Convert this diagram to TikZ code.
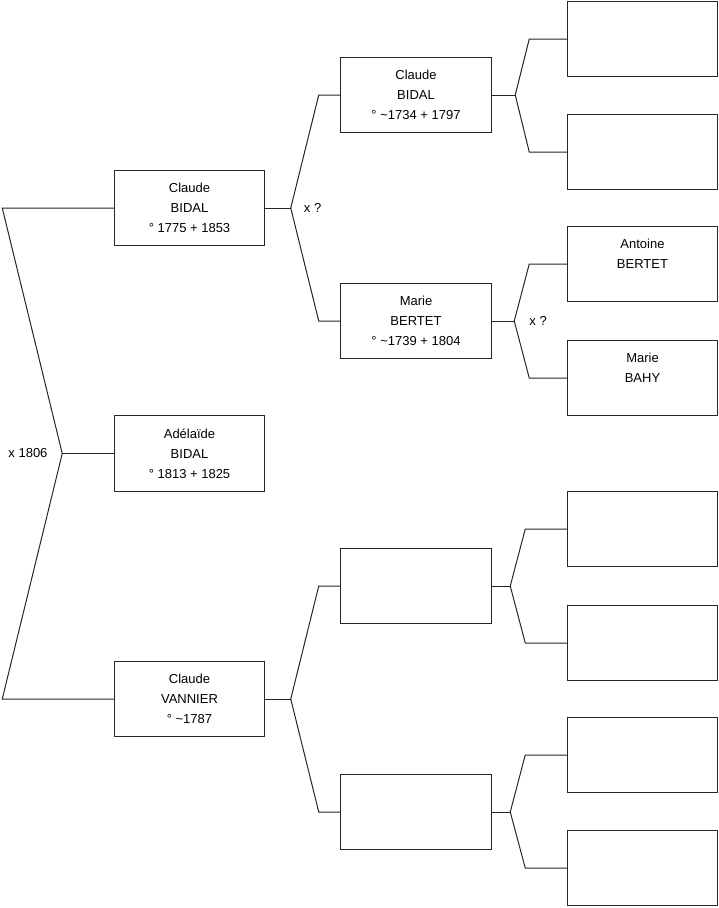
\documentclass[tikz,border=0pt]{standalone}
\usepackage{fontspec}
\setmainfont{Liberation Sans}
\usetikzlibrary{positioning}

\begin{document}
\begin{tikzpicture}[x=1pt, y=1pt, font=\fontsize{13}{20}\selectfont,
  personbox/.style={draw=black!85, line width=1pt, align=center, minimum width=150.5pt, minimum height=75.5pt, inner sep=0pt, outer sep=0pt, fill=white},
  marriage/.style={anchor=west, inner sep=0pt},
  link/.style={draw=black!85, line width=1pt}]
\useasboundingbox (0,0) rectangle (719,-908);
% child and parents
\node[personbox] (adelaide) at (189.5,-453.5) {Adélaïde\\BIDAL\\° 1813 + 1825};
\node[personbox, above=170pt of adelaide] (f) {Claude\\BIDAL\\° 1775 + 1853};
\node[personbox, below=170pt of adelaide] (m) {Claude\\VANNIER\\° \textasciitilde1787};
% grandparents
\node[personbox, right=76pt of f, yshift=113pt] (ff) {Claude\\BIDAL\\° \textasciitilde1734 + 1797};
\node[personbox, right=76pt of f, yshift=-113pt] (fm) {Marie\\BERTET\\° \textasciitilde1739 + 1804};
\node[personbox, right=76pt of m, yshift=113pt] (mf) {};
\node[personbox, right=76pt of m, yshift=-113pt] (mm) {};
% great-grandparents
\node[personbox, right=76pt of ff, yshift=56pt] (fff) {};
\node[personbox, right=76pt of ff, yshift=-57pt] (ffm) {};
\node[personbox, right=76pt of fm, yshift=57pt] (fmf) {Antoine\\BERTET\\\phantom{0}};
\node[personbox, right=76pt of fm, yshift=-57pt] (fmm) {Marie\\BAHY\\\phantom{0}};
\node[personbox, right=76pt of mf, yshift=57pt] (mff) {};
\node[personbox, right=76pt of mf, yshift=-57pt] (mfm) {};
\node[personbox, right=76pt of mm, yshift=57pt] (mmf) {};
\node[personbox, right=76pt of mm, yshift=-56pt] (mmm) {};

% parents -> child
\coordinate (split) at ([xshift=-52pt]adelaide.west);
\draw[link] (f.west) -- ([xshift=-112pt]f.west) -- (split) -- ([xshift=-112pt]m.west) -- (m.west);
\draw[link] (split) -- (adelaide.west);
\node[marriage] (wed) at ([xshift=-106pt]adelaide.west) {x 1806};

% forks to grandparents
\draw[link] (f.east) -- ([xshift=26pt]f.east);
\draw[link] (ff.west) -- ([xshift=-22pt]ff.west) -- ([xshift=26pt]f.east) -- ([xshift=-22pt]fm.west) -- (fm.west);
\node[marriage] (wedf) at ([xshift=39pt]f.east) {x ?};
\draw[link] (m.east) -- ([xshift=26pt]m.east);
\draw[link] (mf.west) -- ([xshift=-22pt]mf.west) -- ([xshift=26pt]m.east) -- ([xshift=-22pt]mm.west) -- (mm.west);

% forks to great-grandparents
\draw[link] (ff.east) -- ([xshift=24pt]ff.east);
\draw[link] (fff.west) -- ([xshift=-38pt]fff.west) -- ([xshift=24pt]ff.east) -- ([xshift=-38pt]ffm.west) -- (ffm.west);
\draw[link] (fm.east) -- ([xshift=23pt]fm.east);
\draw[link] (fmf.west) -- ([xshift=-38pt]fmf.west) -- ([xshift=23pt]fm.east) -- ([xshift=-38pt]fmm.west) -- (fmm.west);
\node[marriage] (wedfm) at ([xshift=38pt]fm.east) {x ?};
\draw[link] (mf.east) -- ([xshift=19pt]mf.east);
\draw[link] (mff.west) -- ([xshift=-42pt]mff.west) -- ([xshift=19pt]mf.east) -- ([xshift=-42pt]mfm.west) -- (mfm.west);
\draw[link] (mm.east) -- ([xshift=19pt]mm.east);
\draw[link] (mmf.west) -- ([xshift=-42pt]mmf.west) -- ([xshift=19pt]mm.east) -- ([xshift=-42pt]mmm.west) -- (mmm.west);
\end{tikzpicture}
\end{document}
